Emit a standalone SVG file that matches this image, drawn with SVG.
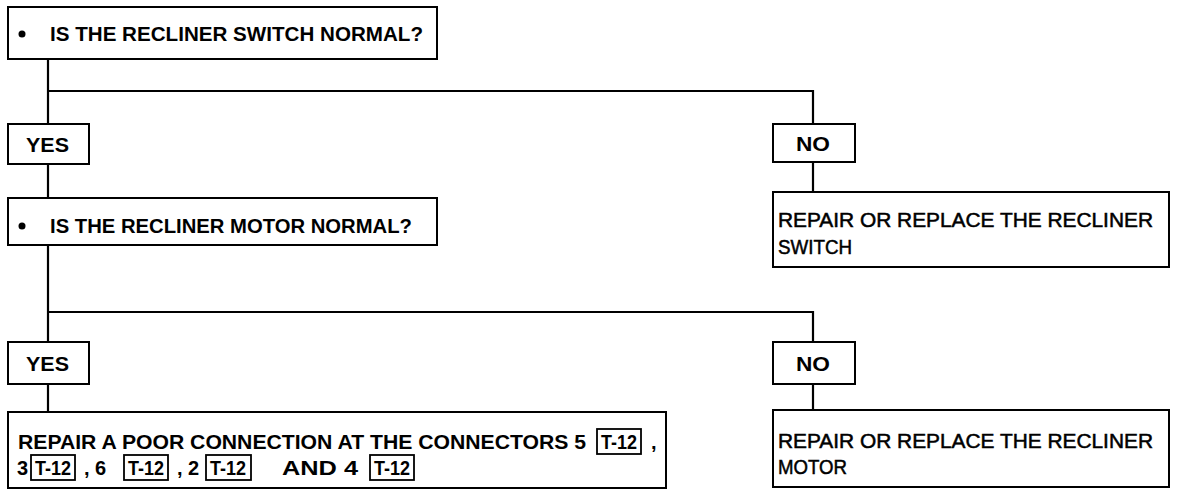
<svg xmlns="http://www.w3.org/2000/svg" width="1184" height="496" viewBox="0 0 1184 496">
<style>
.box{fill:#fff;stroke:#000;stroke-width:2}
.ref{fill:none;stroke:#000;stroke-width:1.8}
.ln{fill:none;stroke:#000;stroke-width:2.2}
.b{font-family:"Liberation Sans",Arial,sans-serif;font-weight:bold;font-size:20px;fill:#000}
.r{font-family:"Liberation Sans",Arial,sans-serif;font-weight:normal;font-size:20px;fill:#000;stroke:#000;stroke-width:0.5}
</style>
<rect width="1184" height="496" fill="#fff"/>
<g id="connectors">
<path class="ln" d="M48 59 V124 M48 164 V198 M48 91 H813 V124 M813 162 V192"/>
<path class="ln" d="M48 245 V342 M48 384 V412 M48 312 H813 V342 M813 384 V410"/>
</g>
<g id="q1">
<rect class="box" x="8" y="7" width="429" height="52"/>
<circle cx="22" cy="34" r="3.5"/>
<text class="b" x="50" y="41" textLength="373" lengthAdjust="spacingAndGlyphs">IS THE RECLINER SWITCH NORMAL?</text>
</g>
<g id="yes1">
<rect class="box" x="8" y="124" width="81" height="40"/>
<text class="b" x="26" y="152" textLength="43" lengthAdjust="spacingAndGlyphs">YES</text>
</g>
<g id="no1">
<rect class="box" x="773" y="124" width="82" height="38"/>
<text class="b" x="796" y="151" textLength="34" lengthAdjust="spacingAndGlyphs">NO</text>
</g>
<g id="r1">
<rect class="box" x="773" y="192" width="396" height="75"/>
<text class="r" x="778" y="227" textLength="375" lengthAdjust="spacingAndGlyphs">REPAIR OR REPLACE THE RECLINER</text>
<text class="r" x="778" y="254" textLength="74" lengthAdjust="spacingAndGlyphs">SWITCH</text>
</g>
<g id="q2">
<rect class="box" x="8" y="198" width="429" height="47"/>
<circle cx="22" cy="226" r="3.5"/>
<text class="b" x="50" y="233" textLength="362" lengthAdjust="spacingAndGlyphs">IS THE RECLINER MOTOR NORMAL?</text>
</g>
<g id="yes2">
<rect class="box" x="8" y="342" width="81" height="42"/>
<text class="b" x="26" y="371" textLength="43" lengthAdjust="spacingAndGlyphs">YES</text>
</g>
<g id="no2">
<rect class="box" x="773" y="342" width="82" height="42"/>
<text class="b" x="796" y="371" textLength="34" lengthAdjust="spacingAndGlyphs">NO</text>
</g>
<g id="r2">
<rect class="box" x="773" y="410" width="396" height="77"/>
<text class="r" x="778" y="448" textLength="375" lengthAdjust="spacingAndGlyphs">REPAIR OR REPLACE THE RECLINER</text>
<text class="r" x="778" y="474" textLength="69" lengthAdjust="spacingAndGlyphs">MOTOR</text>
</g>
<g id="r3">
<rect class="box" x="8" y="412" width="658" height="76"/>
<text class="b" x="18" y="449" textLength="568" lengthAdjust="spacingAndGlyphs">REPAIR A POOR CONNECTION AT THE CONNECTORS  5</text>
<rect class="ref" x="597" y="429" width="44" height="25"/>
<text class="b" x="601" y="449" textLength="36" lengthAdjust="spacingAndGlyphs">T-12</text>
<text class="b" x="651" y="449">,</text>
<text class="b" x="17" y="475">3</text>
<rect class="ref" x="31" y="455" width="44" height="25"/>
<text class="b" x="35" y="475" textLength="36" lengthAdjust="spacingAndGlyphs">T-12</text>
<text class="b" x="84" y="475">, 6</text>
<rect class="ref" x="124" y="455" width="44" height="25"/>
<text class="b" x="128" y="475" textLength="36" lengthAdjust="spacingAndGlyphs">T-12</text>
<text class="b" x="177" y="475">, 2</text>
<rect class="ref" x="206" y="455" width="45" height="25"/>
<text class="b" x="210" y="475" textLength="36" lengthAdjust="spacingAndGlyphs">T-12</text>
<text class="b" x="282" y="475" textLength="76" lengthAdjust="spacingAndGlyphs">AND 4</text>
<rect class="ref" x="370" y="455" width="44" height="25"/>
<text class="b" x="374" y="475" textLength="36" lengthAdjust="spacingAndGlyphs">T-12</text>
</g>
</svg>
